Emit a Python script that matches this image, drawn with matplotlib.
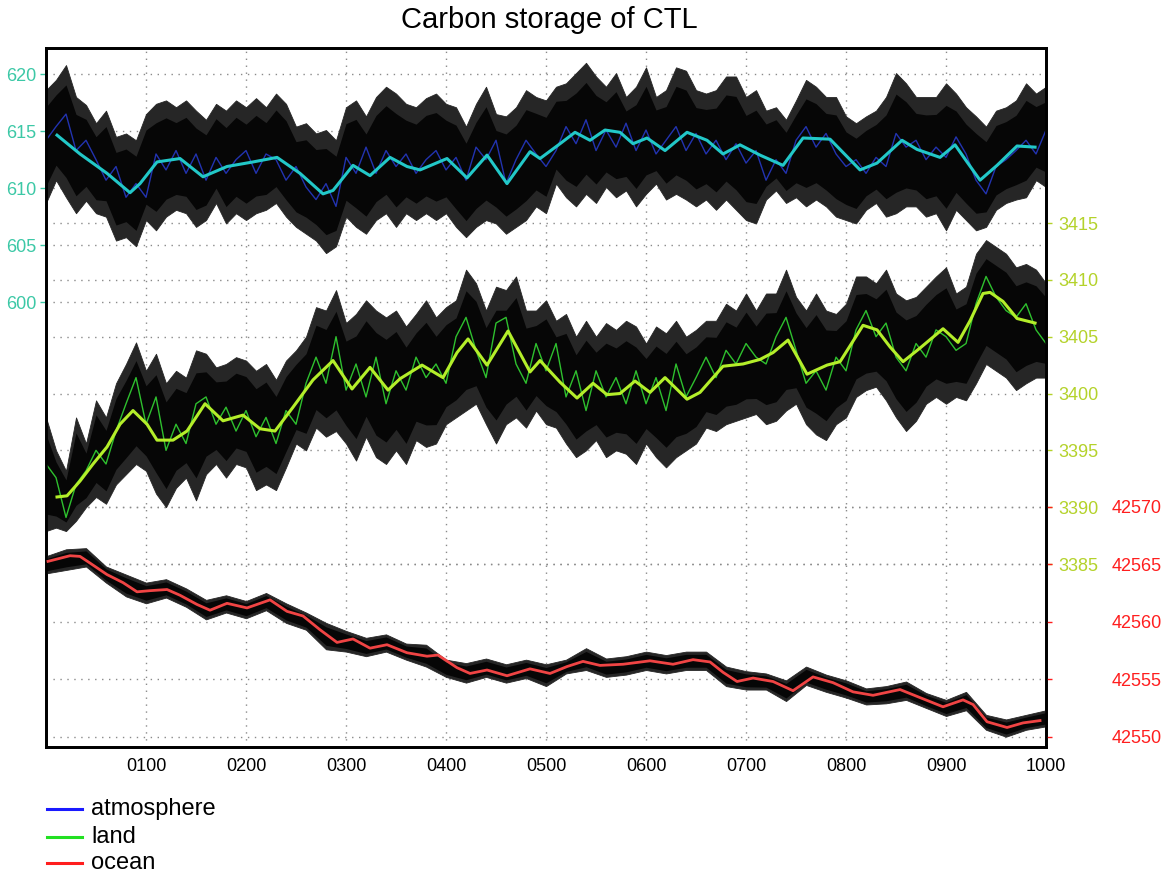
import matplotlib
matplotlib.use('Agg')
import matplotlib.pyplot as plt
import matplotlib.transforms as mtransforms
from matplotlib.lines import Line2D
import numpy as np

plt.rcParams['font.family'] = ['Liberation Sans', 'DejaVu Sans']

# ---- data ----
# band edges and annual lines were read every 10 years (ocean band every 20)
yrs10 = np.arange(0, 1001, 10)
yrs20 = np.arange(0, 1001, 20)

# atmosphere (left axis)
atm_hi = [618.6, 619.5, 620.8, 618.0, 617.3, 615.7, 616.8, 614.5, 614.8, 614.2,
          616.5, 617.4, 617.7, 617.1, 617.7, 616.8, 616.0, 617.4, 616.8, 617.7,
          617.1, 617.9, 617.1, 618.3, 617.4, 615.4, 615.7, 614.8, 615.1, 614.2,
          617.1, 617.7, 616.3, 618.0, 618.9, 618.3, 617.4, 617.1, 617.9, 618.3,
          617.4, 617.1, 615.4, 617.4, 618.9, 616.5, 616.3, 617.1, 618.6, 618.0,
          617.7, 618.9, 619.2, 620.1, 621.0, 619.8, 618.9, 620.1, 618.0, 618.9,
          620.6, 618.0, 618.6, 620.6, 620.3, 618.6, 618.3, 618.6, 619.8, 619.8,
          618.0, 618.6, 616.8, 617.1, 616.0, 617.7, 619.5, 618.9, 618.0, 618.0,
          616.3, 615.7, 616.3, 616.8, 618.0, 620.1, 619.2, 618.0, 618.0, 618.0,
          619.2, 618.3, 617.1, 616.3, 615.4, 616.8, 617.1, 617.7, 619.2, 618.3, 618.9]
atm_lo = [608.7, 610.7, 609.2, 607.8, 608.9, 607.8, 607.5, 605.4, 605.7, 604.9,
          607.2, 606.3, 607.5, 608.1, 607.8, 606.6, 607.2, 608.7, 606.9, 607.8,
          607.2, 607.8, 608.1, 608.7, 607.5, 606.6, 606.0, 605.4, 604.3, 604.9,
          607.5, 606.6, 606.0, 607.2, 607.8, 606.6, 607.8, 607.2, 607.8, 607.2,
          607.8, 606.6, 605.7, 606.6, 607.2, 606.9, 606.0, 606.6, 607.2, 608.4,
          607.8, 610.4, 609.2, 608.4, 609.5, 608.7, 610.1, 609.2, 609.8, 608.4,
          609.5, 610.4, 609.0, 609.5, 609.0, 608.4, 609.0, 608.1, 609.0, 608.1,
          607.2, 606.9, 609.0, 609.8, 608.7, 609.2, 608.4, 609.0, 608.4, 607.5,
          607.2, 606.9, 608.1, 608.7, 607.5, 607.8, 608.4, 608.4, 607.5, 607.8,
          606.3, 608.1, 607.2, 606.3, 606.6, 608.1, 608.7, 609.0, 609.2, 610.7, 610.1]
atm_ann = [614.2, 615.4, 616.5, 613.3, 614.2, 612.5, 610.7, 611.9, 609.2, 610.4,
           609.2, 613.0, 611.6, 613.3, 611.3, 613.0, 610.7, 612.7, 611.3, 612.5,
           613.3, 611.3, 613.0, 612.5, 610.7, 611.9, 610.1, 609.0, 610.4, 608.4,
           612.7, 611.3, 613.6, 611.3, 613.3, 611.9, 613.0, 611.3, 612.5, 613.3,
           611.6, 612.7, 610.7, 613.6, 612.5, 614.2, 610.4, 612.5, 614.2, 613.0,
           611.9, 613.3, 615.4, 613.9, 616.0, 613.3, 615.1, 613.6, 615.7, 613.3,
           615.1, 613.0, 614.2, 615.4, 613.3, 614.8, 613.0, 614.2, 612.5, 613.9,
           612.2, 613.3, 610.7, 612.5, 611.3, 614.2, 615.4, 613.6, 614.8, 613.0,
           611.9, 612.5, 611.3, 612.7, 611.9, 614.8, 613.6, 614.2, 612.5, 613.6,
           612.7, 614.5, 613.0, 610.7, 609.5, 611.9, 612.5, 613.3, 614.2, 613.0, 615.1]
atm_smooth_yr = [11, 34, 61, 84, 94, 111, 134, 157, 181, 207,
                 231, 254, 277, 287, 307, 324, 344, 361, 374, 401,
                 421, 441, 461, 484, 494, 514, 529, 544, 559, 574,
                 587, 601, 619, 641, 661, 677, 694, 714, 737, 757,
                 784, 814, 831, 856, 871, 894, 909, 921, 934, 951,
                 971, 989]
atm_smooth = [614.65, 613.0, 611.3, 609.6, 610.4, 612.3, 612.6, 611.0, 611.9, 612.3,
              612.7, 611.3, 609.5, 609.8, 612.0, 611.1, 612.7, 611.9, 611.6, 612.6,
              610.9, 612.9, 610.4, 613.2, 612.6, 613.9, 614.9, 614.2, 615.1, 614.9,
              613.9, 614.4, 613.3, 614.9, 614.2, 613.0, 613.8, 612.9, 612.0, 614.4,
              614.3, 611.6, 612.2, 614.2, 613.4, 612.7, 613.8, 612.3, 610.7, 612.0,
              613.7, 613.6]

# land (first right axis)
land_hi = [3397.9, 3395.0, 3393.2, 3397.9, 3395.6, 3399.4, 3397.9, 3400.9, 3402.6, 3404.5,
           3402.0, 3403.5, 3400.9, 3402.0, 3401.4, 3403.8, 3403.5, 3402.3, 3402.6, 3403.2,
           3402.9, 3402.0, 3402.6, 3401.2, 3402.9, 3403.8, 3405.0, 3407.6, 3407.3, 3409.1,
           3406.2, 3407.0, 3408.2, 3407.3, 3406.7, 3407.3, 3405.9, 3407.0, 3408.2, 3406.7,
           3407.6, 3408.2, 3410.9, 3409.7, 3407.3, 3409.4, 3409.1, 3410.3, 3407.3, 3407.3,
           3408.2, 3406.4, 3407.0, 3405.0, 3406.4, 3405.0, 3406.2, 3405.6, 3406.4, 3405.9,
           3404.4, 3405.9, 3405.3, 3406.4, 3405.0, 3405.6, 3406.4, 3406.4, 3407.9, 3407.3,
           3408.8, 3407.3, 3408.8, 3408.8, 3410.9, 3408.5, 3407.3, 3408.8, 3407.3, 3407.0,
           3407.9, 3410.3, 3410.3, 3409.7, 3410.9, 3408.8, 3408.2, 3408.5, 3409.4, 3410.3,
           3411.1, 3408.8, 3409.4, 3412.3, 3413.5, 3412.9, 3412.3, 3411.1, 3411.4, 3410.9, 3409.7]
land_lo = [3387.9, 3388.2, 3387.9, 3388.8, 3390.0, 3390.9, 3390.3, 3392.0, 3392.9, 3393.8,
           3393.2, 3391.2, 3390.0, 3391.7, 3392.6, 3390.6, 3392.9, 3393.8, 3392.6, 3393.8,
           3393.5, 3391.5, 3392.0, 3391.5, 3393.5, 3395.6, 3395.0, 3397.0, 3396.2, 3396.7,
           3395.6, 3394.1, 3396.2, 3394.4, 3393.8, 3395.0, 3393.8, 3395.9, 3395.3, 3395.6,
           3397.3, 3397.9, 3398.5, 3399.1, 3397.3, 3395.6, 3397.3, 3397.9, 3397.0, 3398.5,
           3397.3, 3397.0, 3395.6, 3394.4, 3395.0, 3395.9, 3394.4, 3395.0, 3394.7, 3393.8,
           3395.6, 3394.4, 3393.5, 3394.4, 3395.0, 3395.6, 3397.0, 3396.7, 3397.3, 3397.6,
           3397.9, 3398.2, 3397.3, 3397.6, 3398.5, 3399.1, 3397.3, 3396.4, 3395.9, 3397.3,
           3397.9, 3399.7, 3400.3, 3400.6, 3399.4, 3397.9, 3396.7, 3397.6, 3399.1, 3399.7,
           3399.1, 3399.7, 3399.4, 3400.9, 3402.6, 3402.0, 3401.4, 3400.3, 3400.9, 3401.4, 3401.4]
land_ann = [3393.8, 3392.6, 3389.1, 3392.0, 3393.2, 3395.0, 3393.8, 3396.7, 3399.1, 3401.4,
            3397.3, 3399.7, 3395.0, 3397.3, 3395.6, 3399.1, 3399.7, 3397.3, 3398.8, 3396.7,
            3398.5, 3396.2, 3397.9, 3395.6, 3398.5, 3397.3, 3400.9, 3403.2, 3400.9, 3405.0,
            3400.3, 3402.6, 3399.7, 3403.2, 3399.1, 3402.0, 3400.3, 3403.2, 3401.4, 3402.6,
            3400.9, 3405.0, 3406.7, 3403.8, 3401.4, 3406.2, 3406.7, 3402.6, 3400.9, 3404.4,
            3402.0, 3404.4, 3399.7, 3402.0, 3398.5, 3402.0, 3399.7, 3401.4, 3399.1, 3402.0,
            3399.1, 3401.4, 3398.5, 3402.6, 3399.7, 3401.4, 3403.2, 3401.4, 3403.8, 3402.6,
            3404.4, 3403.2, 3402.6, 3405.0, 3406.7, 3403.8, 3400.9, 3402.0, 3400.3, 3403.2,
            3402.0, 3405.6, 3407.3, 3405.0, 3406.2, 3403.2, 3402.0, 3404.4, 3403.2, 3405.6,
            3405.0, 3403.8, 3404.4, 3407.9, 3410.3, 3408.5, 3407.3, 3406.7, 3407.9, 3405.6, 3404.4]
land_smooth_yr = [11, 21, 34, 47, 61, 74, 87, 101, 111, 127,
                  141, 159, 177, 197, 214, 229, 247, 267, 287, 306,
                  324, 342, 354, 376, 397, 411, 422, 441, 462, 484,
                  494, 514, 531, 547, 561, 574, 589, 604, 619, 641,
                  654, 677, 697, 714, 727, 742, 761, 781, 794, 817,
                  831, 844, 857, 874, 897, 912, 924, 937, 944, 957,
                  971, 989]
land_smooth = [3390.9, 3391.0, 3392.3, 3393.8, 3395.3, 3397.3, 3398.5, 3397.3, 3395.9, 3395.9,
               3396.7, 3399.1, 3397.6, 3398.1, 3396.9, 3396.7, 3398.8, 3401.2, 3402.9, 3400.4,
               3402.3, 3400.3, 3401.3, 3402.5, 3401.4, 3403.6, 3404.8, 3402.5, 3405.5, 3401.9,
               3402.9, 3401.0, 3399.6, 3400.9, 3399.9, 3400.0, 3401.1, 3400.1, 3401.4, 3399.5,
               3400.1, 3402.4, 3402.6, 3403.0, 3403.6, 3404.7, 3401.7, 3402.5, 3402.8, 3406.0,
               3405.6, 3404.1, 3402.8, 3404.0, 3405.7, 3404.5, 3406.4, 3408.8, 3408.9, 3408.1,
               3406.6, 3406.2]

# ocean (second right axis)
ocn_hi = [42565.7, 42566.3, 42566.4, 42564.8, 42564.1, 42563.4, 42563.7, 42562.9, 42561.9, 42562.3,
          42561.8, 42562.5, 42561.6, 42560.8, 42559.9, 42559.2, 42558.6, 42558.9, 42558.1, 42558.0,
          42556.7, 42556.4, 42556.8, 42556.3, 42556.7, 42556.3, 42556.7, 42557.7, 42556.8, 42557.0,
          42557.4, 42557.1, 42557.4, 42557.4, 42556.1, 42555.7, 42555.5, 42554.9, 42556.1, 42555.4,
          42554.9, 42554.2, 42554.4, 42554.8, 42553.8, 42553.2, 42553.9, 42551.9, 42551.5, 42551.9, 42552.3]
ocn_lo = [42564.2, 42564.5, 42564.8, 42563.4, 42562.2, 42561.6, 42562.1, 42561.3, 42560.2, 42560.8,
          42560.3, 42561.0, 42559.9, 42559.3, 42557.6, 42557.4, 42557.0, 42557.4, 42556.7, 42556.1,
          42555.2, 42554.7, 42555.2, 42554.7, 42555.1, 42554.4, 42555.5, 42555.8, 42555.2, 42555.4,
          42555.8, 42555.5, 42555.8, 42555.8, 42554.4, 42554.1, 42554.1, 42553.1, 42554.5, 42553.9,
          42553.4, 42552.8, 42552.9, 42553.2, 42552.5, 42551.8, 42552.3, 42550.6, 42550.0, 42550.6, 42550.9]
ocn_smooth_yr = [2, 11, 24, 34, 44, 61, 77, 91, 104, 121,
                 134, 151, 164, 181, 201, 224, 241, 257, 274, 291,
                 307, 324, 341, 361, 381, 392, 411, 424, 441, 461,
                 484, 504, 521, 537, 554, 577, 604, 627, 647, 664,
                 677, 691, 707, 727, 747, 767, 787, 807, 827, 854,
                 874, 897, 917, 927, 941, 961, 977, 994]
ocn_smooth = [42565.25, 42565.45, 42565.74, 42565.68, 42565.1, 42564.1, 42563.4, 42562.6, 42562.7, 42562.8,
              42562.3, 42561.5, 42561.0, 42561.6, 42561.2, 42561.9, 42560.9, 42560.5, 42559.3, 42558.2,
              42558.5, 42557.7, 42558.0, 42557.3, 42557.0, 42557.1, 42556.0, 42555.5, 42555.8, 42555.3,
              42555.9, 42555.5, 42556.1, 42556.55, 42556.2, 42556.3, 42556.6, 42556.3, 42556.7, 42556.5,
              42555.6, 42554.8, 42555.1, 42554.8, 42554.0, 42555.2, 42554.7, 42553.9, 42553.6, 42554.1,
              42553.4, 42552.6, 42553.2, 42552.8, 42551.3, 42550.8, 42551.2, 42551.4]

x_ticks = [100, 200, 300, 400, 500, 600, 700, 800, 900, 1000]
atm_ticks = [600, 605, 610, 615, 620]
land_ticks = [3385, 3390, 3395, 3400, 3405, 3410, 3415]
ocn_ticks = [42550, 42555, 42560, 42565, 42570]

# ---- colours ----
c_atm_lab = '#3cc8a6'
c_land_lab = '#b4d22a'
c_ocn = '#ff1e1e'


def spread_band(a, x, lo, hi):
    """dark fringe over the full spread, black core in the middle"""
    lo = np.asarray(lo)
    hi = np.asarray(hi)
    w = hi - lo
    a.fill_between(x, lo, hi, color='#262626', lw=0.6, zorder=2)
    a.fill_between(x, lo + 0.15 * w, hi - 0.15 * w, color='#060606', lw=0, zorder=2.1)


fig = plt.figure(figsize=(11.62, 8.72), dpi=100)
ax = fig.add_axes([0.0396, 0.1433, 0.8606, 0.8017])
ax2 = ax.twinx()
ax3 = ax.twinx()

ax.set_xlim(0, 1000)
ax.set_ylim(560.97, 622.3)
ax2.set_ylim(3368.9, 3430.4)
ax3.set_ylim(42549.1, 42609.9)

# dotted grid, all drawn in the bottom axes so the data sits above it
grid_kw = dict(color='#8a8a8a', lw=1.0, linestyle=(0, (1, 4)), zorder=0.5)
for xv in x_ticks[:-1]:
    ax.axvline(xv, **grid_kw)
for src, vals in [(ax, atm_ticks), (ax2, land_ticks), (ax3, ocn_ticks)]:
    tr = mtransforms.blended_transform_factory(ax.transAxes, src.transData)
    for v in vals:
        ax.plot([0, 1], [v, v], transform=tr, scalex=False, scaley=False, **grid_kw)

# atmosphere
spread_band(ax, yrs10, atm_lo, atm_hi)
ax.plot(yrs10, atm_ann, color='#2233b0', lw=1.0, zorder=3)
ax.plot(atm_smooth_yr, atm_smooth, color='#22c8c8', lw=2.2, zorder=4)

# land
spread_band(ax2, yrs10, land_lo, land_hi)
ax2.plot(yrs10, land_ann, color='#2ec02e', lw=1.0, zorder=3)
ax2.plot(land_smooth_yr, land_smooth, color='#b4ee2a', lw=2.2, zorder=4)

# ocean
spread_band(ax3, yrs20, ocn_lo, ocn_hi)
ax3.plot(ocn_smooth_yr, ocn_smooth, color='#f04444', lw=2.0, zorder=4)

# ticks
ax.set_xticks(x_ticks)
ax.set_xticklabels(['%04d' % v for v in x_ticks])
ax.tick_params(axis='x', length=0, pad=8, labelsize=13)
ax.set_yticks(atm_ticks)
ax.tick_params(axis='y', colors=c_atm_lab, length=4, width=1, labelsize=13, pad=3)
ax2.set_yticks(land_ticks)
ax2.tick_params(axis='y', colors=c_land_lab, length=4, width=1, labelsize=13, pad=5)
ax3.set_yticks(ocn_ticks)
ax3.tick_params(axis='y', colors=c_ocn, length=4, width=1, labelsize=13, pad=43)

for a in (ax, ax2, ax3):
    for sp in a.spines.values():
        sp.set_linewidth(1.8)
        sp.set_color('black')

fig.text(0.473, 0.977, 'Carbon storage of CTL', ha='center', va='center', fontsize=21)

# legend below the plot
leg_items = [('atmosphere', '#1a1aff', 0.0722),
             ('land', '#22e022', 0.0401),
             ('ocean', '#ff1e1e', 0.0103)]
for name, col, yy in leg_items:
    fig.add_artist(Line2D([0.0404, 0.0706], [yy, yy], transform=fig.transFigure,
                          color=col, lw=2.2))
    fig.text(0.0783, yy, name, ha='left', va='center', fontsize=17)

fig.savefig('out.png', dpi=100)
